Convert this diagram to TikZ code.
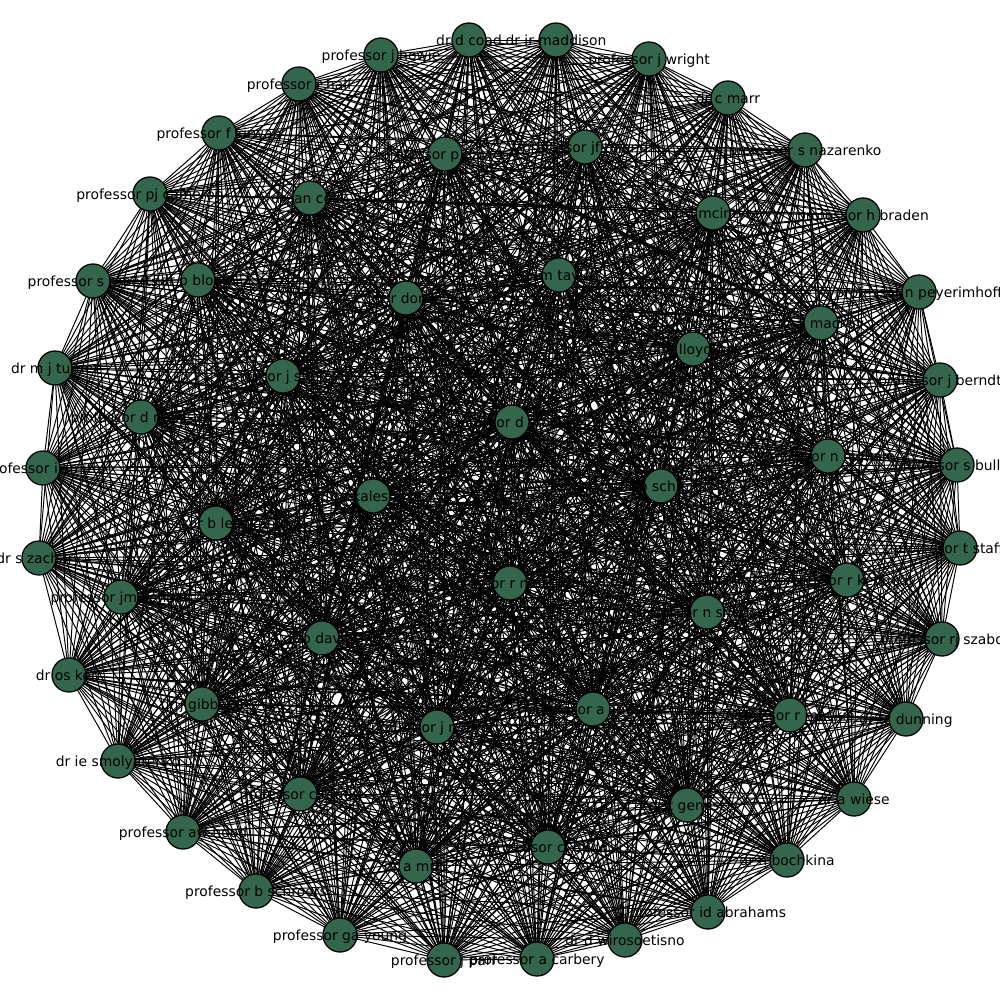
\documentclass[tikz,border=0pt]{standalone}
\usepackage{fontspec}
\setmainfont{DejaVu Sans}
\pgfdeclarelayer{edgelayer}
\pgfsetlayers{edgelayer,main}
\definecolor{nodegreen}{RGB}{51,102,77}
\tikzset{
  vert/.style={circle,draw=black,line width=0.9pt,fill=nodegreen,minimum size=24.5pt,inner sep=0pt,outer sep=0pt},
  lab/.style={font=\fontsize{10}{12}\selectfont,text=black,inner sep=0pt,text height=10.9pt,text depth=2.3pt},
  edge/.style={draw=black,line width=0.7pt}
}
\begin{document}
\begin{tikzpicture}[x=0.72pt,y=-0.72pt]
\useasboundingbox (0,0) rectangle (1000,1000);
\foreach \k/\x/\y in {
1/469/40, 2/556/40, 3/649/59, 4/728/98, 5/805/150, 6/863/215, 7/919/292, 8/940/380,
9/957/465, 10/960/548, 11/942/639, 12/906/719, 13/854/799, 14/787/860, 15/708/912,
16/625/940, 17/537/959, 18/444/960, 19/340/935, 20/256/891, 21/183/832, 22/118/761,
23/69/675, 24/39/558, 25/43/468, 26/55/368, 27/93/281, 28/150/194, 29/219/133,
30/299/84, 31/381/55, 32/445/154, 33/585/147, 34/310/198, 35/713/213, 36/559/275,
37/198/280, 38/406/298, 39/821/323, 40/693/349, 41/283/376, 42/141/417, 43/512/422,
44/828/456, 45/661/486, 46/373/496, 47/216/523, 48/847/580, 49/510/583, 50/121/597,
51/707/612, 52/322/638, 53/202/704, 54/593/709, 55/790/715, 56/437/727, 57/300/794,
58/687/805, 59/548/847, 60/416/866}
  \node[vert] (n\k) at (\x,\y) {};
\begin{pgfonlayer}{edgelayer}
\foreach \i in {1,...,59}{
  \pgfmathtruncatemacro\nxt{\i+1}
  \foreach \j in {\nxt,...,60}{
    \draw[edge] (n\i.center) -- (n\j.center);
  }
}
\end{pgfonlayer}
\foreach \k/\t in {
1/{dr d coad}, 2/{dr ir maddison}, 3/{professor j wright}, 4/{dr c marr},
5/{professor s nazarenko}, 6/{professor h braden}, 7/{professor n peyerimhoff},
8/{professor j berndt}, 9/{professor s bullett}, 10/{professor t stafford},
11/{professor rj szabo}, 12/{dr tc dunning}, 13/{dr a wiese}, 14/{dr n bochkina},
15/{professor id abrahams}, 16/{dr d wirosoetisno}, 17/{professor a carbery},
18/{professor j parr}, 19/{professor ga young}, 20/{professor b schroers},
21/{professor aw hood}, 22/{dr ie smolyarenko}, 23/{dr os kerr}, 24/{dr s zachary},
25/{professor i smith}, 26/{dr m j turner}, 27/{professor s roberts},
28/{professor pj cameron}, 29/{professor f kirwan}, 30/{professor r hall},
31/{professor j howie}, 32/{professor p davies}, 33/{professor jf toland},
34/{dr ian cook}, 35/{dr d mcintyre}, 36/{dr m taylor}, 37/{dr p bloom},
38/{dr r dorey}, 39/{dr a mackay}, 40/{dr s lloyd-hill}, 41/{professor j sherratt},
42/{professor d mollison}, 43/{professor d crowdy}, 44/{professor n higham},
45/{dr p schmid}, 46/{dr a kalesnikov}, 47/{professor b leimkuhler},
48/{professor r kennedy}, 49/{professor r marshall}, 50/{professor jm kendall},
51/{professor n sheppard}, 52/{dr o davies}, 53/{dr j gibbons}, 54/{professor a soward},
55/{professor r mackie}, 56/{professor j norbury}, 57/{professor c roney},
58/{dr t genest}, 59/{professor cj budd}, 60/{dr a muir}}
  \node[lab] (t\k) at (n\k) {\t};
\end{tikzpicture}
\end{document}
